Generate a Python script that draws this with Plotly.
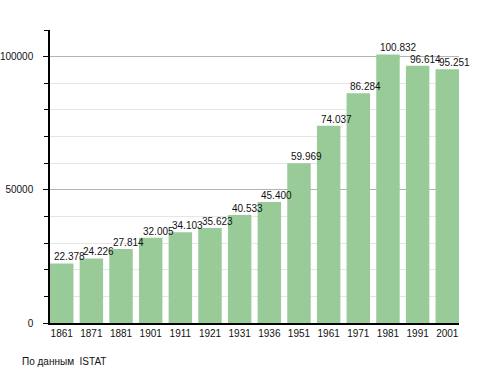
import plotly.graph_objects as go

years = ["1861", "1871", "1881", "1901", "1911", "1921", "1931", "1936",
         "1951", "1961", "1971", "1981", "1991", "2001"]
population = [22378, 24226, 27814, 32005, 34103, 35623, 40533, 45400,
              59969, 74037, 86284, 100832, 96614, 95251]
value_labels = ["22.378", "24.226", "27.814", "32.005", "34.103", "35.623", "40.533",
                "45.400", "59.969", "74.037", "86.284", "100.832", "96.614", "95.251"]
source_note = "По данным\u00a0 ISTAT"

FONT = "Liberation Sans, Arial, sans-serif"
positions = list(range(len(years)))

fig = go.Figure()
fig.add_trace(go.Bar(
    x=positions, y=population,
    marker=dict(color="#99cb99", line=dict(width=0)),
    hoverinfo="skip",
))

for pos, val, lab in zip(positions, population, value_labels):
    fig.add_annotation(
        x=pos, y=val, xref="x", yref="y", text=lab, showarrow=False,
        xanchor="left", yanchor="bottom", xshift=-10, yshift=-1,
        font=dict(family=FONT, size=10, color="#111"),
    )

fig.add_annotation(
    xref="paper", yref="paper", x=-0.0733, y=-0.133,
    xanchor="left", yanchor="middle", showarrow=False,
    text=source_note, font=dict(family=FONT, size=10, color="#111"),
)

fig.update_layout(
    width=488, height=373,
    margin=dict(l=50, r=29, t=30, b=50),
    paper_bgcolor="white", plot_bgcolor="white",
    bargap=0.209,
    showlegend=False,
    font=dict(family=FONT, size=10, color="#111"),
)

fig.update_xaxes(
    range=[-0.395, 13.395],
    tickmode="array", tickvals=positions, ticktext=years,
    showline=True, linecolor="black", linewidth=1.5,
    ticks="", showgrid=False, zeroline=False,
    automargin=False,
    tickfont=dict(family=FONT, size=10, color="#111"),
)

fig.update_yaxes(
    range=[0, 110000],
    dtick=50000, tick0=0,
    tickformat="d",
    showline=True, linecolor="black", linewidth=1.5,
    ticks="outside", ticklen=5, tickcolor="black", tickwidth=1,
    ticklabelstandoff=8,
    showgrid=True, gridcolor="#b4b4b4", gridwidth=1,
    zeroline=False,
    automargin=False,
    minor=dict(dtick=10000, tick0=0, ticks="outside", ticklen=4, tickcolor="black",
               showgrid=True, gridcolor="#e6e6e6", gridwidth=1),
    tickfont=dict(family=FONT, size=10, color="#111"),
)

fig.write_html(
    "out.html",
    config={"displayModeBar": False},
    post_script="document.body.style.margin='0';document.body.style.padding='0';",
)
